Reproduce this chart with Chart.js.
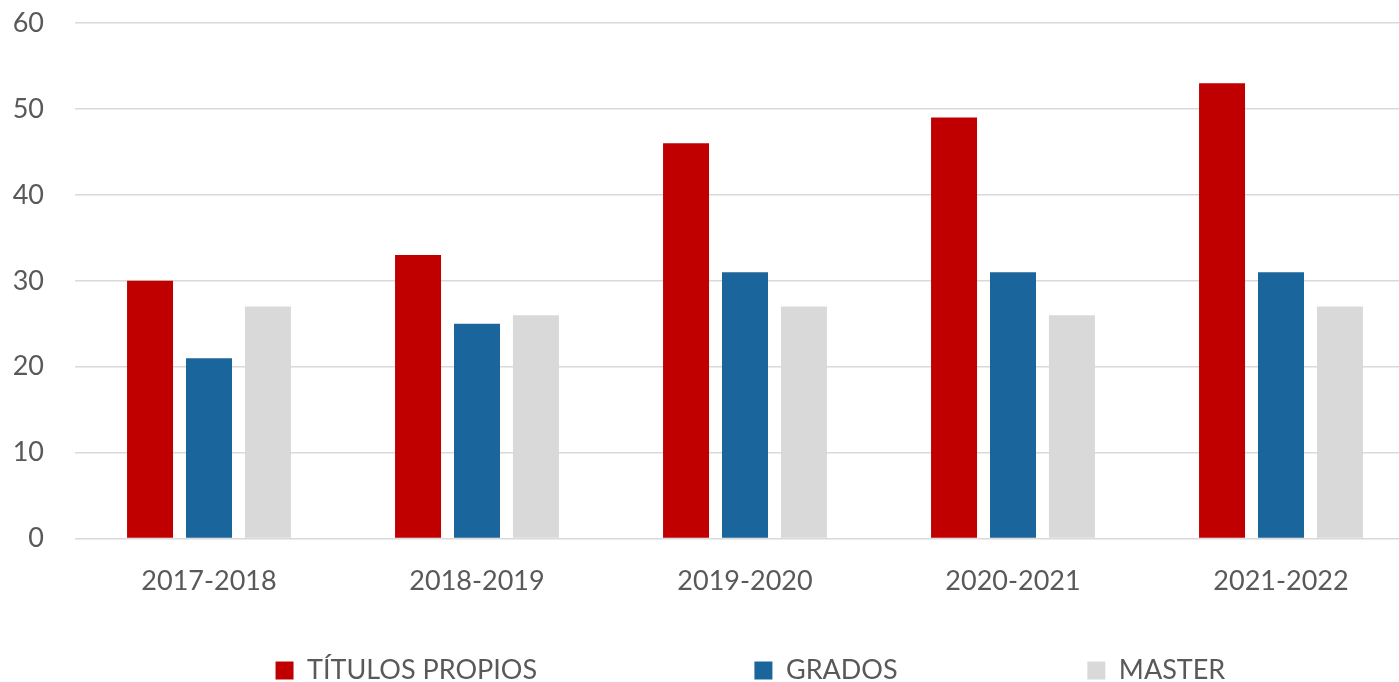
<!DOCTYPE html>
<html>
<head>
<meta charset="utf-8">
<script src="https://cdn.jsdelivr.net/npm/chart.js@4"></script>
<style>
	html, body { margin: 0; padding: 0; background: #fff; overflow: hidden; }
	/* the original plot runs a little past the right edge of the picture */
	#wrap { width: 1415px; height: 694px; position: relative; }
</style>
</head>
<body>
<div id="wrap"><canvas id="chart"></canvas></div>
<script>
const years = ['2017-2018', '2018-2019', '2019-2020', '2020-2021', '2021-2022']
const titulos_propios = [30, 33, 46, 49, 53]
const grados = [21, 25, 31, 31, 31]
const master = [27, 26, 27, 26, 27]
const y_ticks = [0, 10, 20, 30, 40, 50, 60]

const RED = '#C00000'
const BLUE = '#1A659C'
const GREY = '#D9D9D9'
const TEXT = '#595959'
const FONT = 'Lato, "Liberation Sans", sans-serif'
const FONT_SIZE = 27

// the Excel legend spaces its entries unevenly; these are the text widths
// each entry should take up (legend is end-aligned)
const legend_text_width = [435, 289, 289]

function padded (ctx, text, width) {
	ctx.font = `${FONT_SIZE}px ${FONT}`
	const space = ctx.measureText(' ').width
	let out = text
	while (ctx.measureText(out + ' ').width <= width + space / 2) out += ' '
	return out
}

const ctx = document.getElementById('chart').getContext('2d')
const chart = new Chart(ctx, {
	type: 'bar',
	data: {
		labels: years,
		datasets: [
			{ label: 'TÍTULOS PROPIOS', data: titulos_propios, backgroundColor: RED },
			{ label: 'GRADOS', data: grados, backgroundColor: BLUE },
			{ label: 'MASTER', data: master, backgroundColor: GREY },
		],
	},
	options: {
		responsive: true,
		maintainAspectRatio: false,
		animation: false,
		categoryPercentage: 0.66,
		barPercentage: 0.78,
		layout: { padding: { top: 23, right: 0, left: 0, bottom: 0 } },
		plugins: {
			tooltip: { enabled: false },
			legend: {
				position: 'bottom',
				align: 'end',
				labels: {
					font: { family: FONT, size: FONT_SIZE },
					color: TEXT,
					boxWidth: 18,
					boxHeight: 18,
					padding: 10,
					generateLabels: function (c) {
						return c.data.datasets.map(function (ds, idx) {
							return {
								text: padded(c.ctx, ds.label, legend_text_width[idx]),
								fillStyle: ds.backgroundColor,
								strokeStyle: ds.backgroundColor,
								lineWidth: 0,
								fontColor: TEXT,
								datasetIndex: idx,
							}
						})
					},
				},
			},
		},
		scales: {
			x: {
				grid: { display: false },
				border: { display: false },
				afterFit: function (scale) { scale.height += 32 },
				ticks: {
					font: { family: FONT, size: FONT_SIZE },
					color: TEXT,
					padding: 18,
				},
			},
			y: {
				min: 0,
				max: 60,
				afterFit: function (scale) {
					scale.width = 75
					// tick padding would otherwise push the plot top down
					scale.paddingTop = 0
					scale.paddingBottom = 0
				},
				afterBuildTicks: function (scale) {
					scale.ticks = y_ticks.map(v => ({ value: v }))
				},
				grid: { color: GREY, lineWidth: 1.5, drawTicks: false },
				border: { display: false },
				ticks: {
					font: { family: FONT, size: FONT_SIZE },
					color: TEXT,
					padding: 31,
				},
			},
		},
	},
})
</script>
</body>
</html>
